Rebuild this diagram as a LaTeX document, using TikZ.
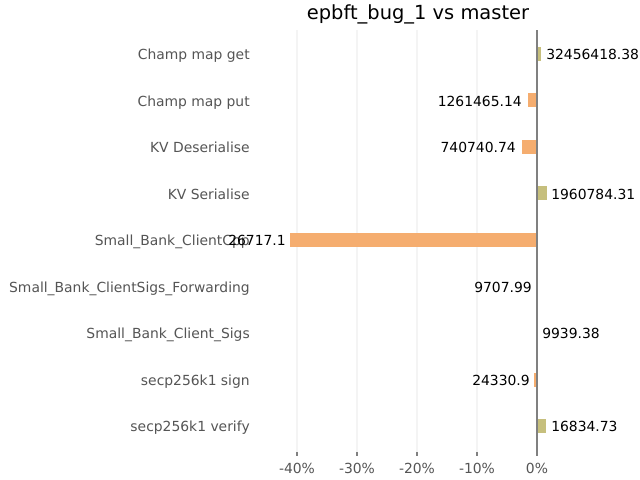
\documentclass[tikz,border=0pt]{standalone}
\usepackage{fontspec}
\setmainfont{DejaVu Sans}
\definecolor{barneg}{HTML}{F5AD6F}
\definecolor{barpos}{HTML}{C6BF7D}
\definecolor{zeroline}{HTML}{808080}
\definecolor{gridc}{HTML}{F4F4F4}
\definecolor{labgray}{HTML}{555555}
\begin{document}
\begin{tikzpicture}[x=0.72pt,y=-0.72pt,
  catlabel/.style={anchor=base east,inner sep=0pt,text=labgray,font=\fontsize{10}{12}\selectfont},
  vallabel/.style={inner sep=0pt,text=black,font=\fontsize{10}{12}\selectfont},
  ticklabel/.style={anchor=base,inner sep=0pt,text=labgray,font=\fontsize{10}{12}\selectfont},
  gridline/.style={draw=gridc,line width=0.8pt},
  negbar/.style={fill=barneg,draw=none},
  posbar/.style={fill=barpos,draw=none}]
\useasboundingbox[fill=white] (0,0) rectangle (640,480);
% title
\node[inner sep=0pt,anchor=base,font=\fontsize{14}{16}\selectfont] (title) at (418,19) {epbft\_bug\_1 vs master};
% vertical grid lines and ticks
\foreach \xx/\lab in {297/-40\%,357/-30\%,417/-20\%,477/-10\%,537/0\%}{
  \draw[gridline] (\xx,30) -- (\xx,452);
  \draw[zeroline,line width=0.8pt] (\xx,452) -- (\xx,456);
  \node[ticklabel] at (\xx,473) {\lab};
}
% bars
\fill[posbar] (537,47) rectangle (541,61);
\fill[negbar] (528,93) rectangle (537,107);
\fill[negbar] (522,140) rectangle (537,154);
\fill[posbar] (537,186) rectangle (547,200);
\fill[negbar] (290,233) rectangle (537,247);
\fill[negbar] (534,373) rectangle (537,387);
\fill[posbar] (537,419) rectangle (546,433);
% zero line
\draw[zeroline,line width=1.6pt] (537,30) -- (537,452);
% category labels
\node[catlabel] (c1) at (250,59) {Champ map get};
\node[catlabel] (c2) at (250,106) {Champ map put};
\node[catlabel] (c3) at (250,152) {KV Deserialise};
\node[catlabel] (c4) at (250,199) {KV Serialise};
\node[catlabel] (c5) at (250,245) {Small\_Bank\_ClientCpp};
\node[catlabel] (c6) at (250,292) {Small\_Bank\_ClientSigs\_Forwarding};
\node[catlabel] (c7) at (250,338) {Small\_Bank\_Client\_Sigs};
\node[catlabel] (c8) at (250,385) {secp256k1 sign};
\node[catlabel] (c9) at (250,431) {secp256k1 verify};
% value labels
\node[vallabel,anchor=base west] (v1) at (546,59) {32456418.38};
\node[vallabel,anchor=base east] (v2) at (522,106) {1261465.14};
\node[vallabel,anchor=base east] (v3) at (516,152) {740740.74};
\node[vallabel,anchor=base west] (v4) at (551,199) {1960784.31};
\node[vallabel,anchor=base east] (v5) at (286,245) {26717.1};
\node[vallabel,anchor=base east] (v6) at (532,292) {9707.99};
\node[vallabel,anchor=base west] (v7) at (542,338) {9939.38};
\node[vallabel,anchor=base east] (v8) at (530,385) {24330.9};
\node[vallabel,anchor=base west] (v9) at (551,431) {16834.73};
\end{tikzpicture}
\end{document}
